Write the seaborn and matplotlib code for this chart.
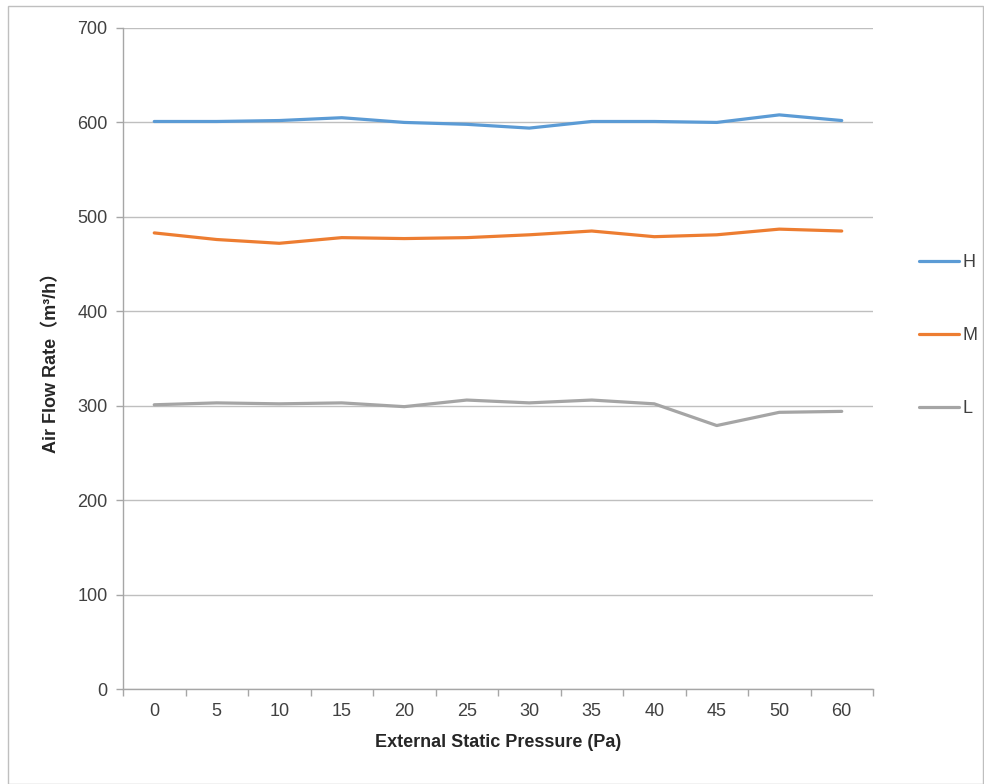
import matplotlib
matplotlib.use("Agg")
import matplotlib.pyplot as plt
import seaborn as sns
import pandas as pd
from matplotlib.patches import Rectangle

pressure = ["0", "5", "10", "15", "20", "25", "30", "35", "40", "45", "50", "60"]
flow_h = [601, 601, 602, 605, 600, 598, 594, 601, 601, 600, 608, 602]
flow_m = [483, 476, 472, 478, 477, 478, 481, 485, 479, 481, 487, 485]
flow_l = [301, 303, 302, 303, 299, 306, 303, 306, 302, 279, 293, 294]
series = ["H", "M", "L"]
colors = ["#5B9BD5", "#ED7D31", "#A5A5A5"]

df = pd.DataFrame({
    "pressure": pressure * 3,
    "flow": flow_h + flow_m + flow_l,
    "speed": ["H"] * len(pressure) + ["M"] * len(pressure) + ["L"] * len(pressure),
})

sns.set_style("white")
plt.rcParams["font.family"] = ["Liberation Sans", "Noto Sans CJK SC"]

fig = plt.figure(figsize=(9.84, 7.84), dpi=100)
ax = fig.add_axes([123 / 984, 1 - 689 / 784, 750 / 984, 661 / 784])

sns.lineplot(data=df, x="pressure", y="flow", hue="speed", hue_order=series,
             palette=colors, linewidth=2.3, sort=False, ax=ax, legend=False)

ax.set_ylim(0, 700)
ax.set_xlim(-0.5, len(pressure) - 0.5)
ax.set_yticks(range(0, 701, 100))
ax.set_xticks(range(len(pressure)))
ax.set_xticklabels(pressure)
ax.set_xticks([i - 0.5 for i in range(len(pressure) + 1)], minor=True)
ax.grid(axis="y", color="#BFBFBF", linewidth=1)
ax.set_axisbelow(True)

for side in ["top", "right"]:
    ax.spines[side].set_visible(False)
for side in ["left", "bottom"]:
    ax.spines[side].set_color("#A6A6A6")
    ax.spines[side].set_linewidth(1)

ax.tick_params(axis="y", which="major", length=5, color="#A6A6A6", width=1,
               labelsize=13, labelcolor="#404040", pad=6, left=True)
ax.tick_params(axis="x", which="major", length=0, labelsize=13, labelcolor="#404040", pad=10)
ax.tick_params(axis="x", which="minor", length=5, color="#A6A6A6", width=1, bottom=True)

ax.set_xlabel("External Static Pressure (Pa)", fontsize=13, fontweight="bold", labelpad=10)
ax.set_ylabel("Air Flow Rate（m³/h）", fontsize=13, fontweight="bold", labelpad=12)

handles = [plt.Line2D([], [], color=c, linewidth=2.3) for c in colors]
fig.legend(handles, series, loc="upper left", bbox_to_anchor=(912 / 984, 1 - 247 / 784),
           frameon=False, fontsize=13, handlelength=2.2, handletextpad=0.2,
           labelspacing=3.1, labelcolor="#404040", borderaxespad=0)

fig.patches.append(Rectangle((8 / 984, 0), 975 / 984, 1 - 6 / 784, transform=fig.transFigure,
                             fill=False, edgecolor="#BFBFBF", linewidth=1))

fig.savefig("out.png", dpi=100)
